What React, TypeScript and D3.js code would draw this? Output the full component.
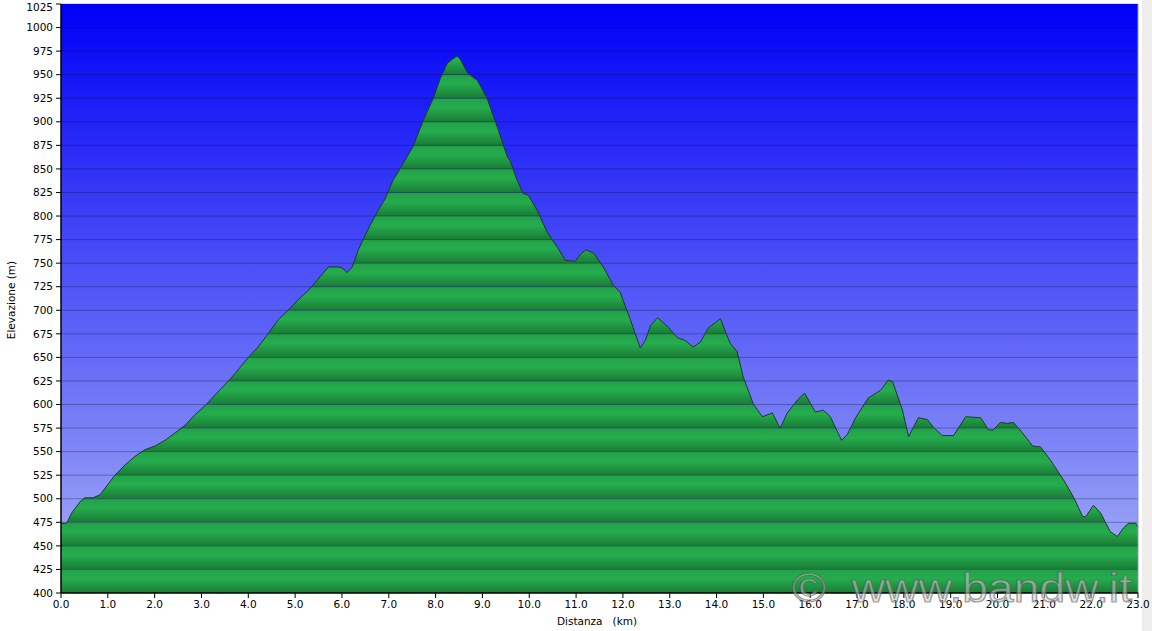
import * as d3 from "d3";

// distance along the track (km) and elevation (m)
const distanceKm = [
  0.0, 0.12, 0.23, 0.41, 0.51, 0.68, 0.83, 1.0, 1.15, 1.37, 1.58, 1.79, 2.01, 2.22, 2.44, 2.65, 2.86,
  3.08, 3.29, 3.5, 3.72, 4.0, 4.21, 4.42, 4.64, 4.85, 5.06, 5.28, 5.49, 5.71, 5.92, 6.0, 6.11, 6.22,
  6.35, 6.45, 6.6, 6.77, 6.92, 7.09, 7.31, 7.52, 7.74, 7.95, 8.1, 8.25, 8.35, 8.46, 8.53, 8.68, 8.78,
  8.89, 9.1, 9.32, 9.53, 9.59, 9.74, 9.87, 9.98, 10.17, 10.38, 10.6, 10.77, 10.98, 11.09, 11.2, 11.37,
  11.58, 11.79, 11.94, 12.16, 12.37, 12.48, 12.59, 12.74, 12.97, 13.16, 13.33, 13.5, 13.65, 13.82,
  14.08, 14.29, 14.44, 14.57, 14.79, 14.98, 15.19, 15.36, 15.51, 15.73, 15.88, 16.11, 16.28, 16.43,
  16.67, 16.79, 16.97, 17.24, 17.5, 17.67, 17.76, 17.97, 18.1, 18.31, 18.5, 18.63, 18.82, 19.06,
  19.32, 19.64, 19.81, 19.91, 20.06, 20.21, 20.34, 20.53, 20.75, 20.92, 21.13, 21.41, 21.62, 21.82,
  21.88, 22.05, 22.2, 22.41, 22.56, 22.69, 22.8, 22.95, 23.0,
];
const elevationM = [
  474, 474, 485, 497, 501, 501, 504, 515, 525, 536, 545, 552, 556, 562, 570, 578, 589,
  599, 610, 621, 633, 650, 661, 675, 690, 700, 711, 721, 733, 746, 746, 745, 740, 746,
  764, 775, 790, 806, 818, 838, 856, 874, 902, 925, 946, 962, 966, 970, 966, 952, 948,
  944, 925, 894, 863, 859, 838, 824, 822, 806, 783, 767, 753, 752, 759, 764, 761,
  746, 727, 719, 690, 660, 668, 684, 692, 682, 671, 668, 661, 666, 681,
  691, 665, 656, 629, 600, 587, 591, 575, 591, 605, 612, 592, 594, 587,
  562, 568, 586, 607, 615, 626, 624, 594, 566, 586, 584, 576, 567, 567,
  587, 586, 573, 573, 581, 580, 581, 570, 556, 555, 541, 520, 502, 481,
  481, 493, 485, 465, 460, 469, 474, 474, 470,
];

const yTickValues = d3.range(400, 1026, 25);
const xTickValues = d3.range(0, 24, 1);

const W = 1152;
const H = 631;
const left = 61;
const right = 1138;
const top = 4;
const bottom = 593;
const font = "'DejaVu Sans', Verdana, sans-serif";

export default function App() {
  const x = d3.scaleLinear().domain([0, 23]).range([left, right]);
  const y = d3.scaleLinear().domain([400, 1025]).range([bottom, top]);
  const points = distanceKm.map((d, i) => ({ d, e: elevationM[i] }));

  const area = d3
    .area<{ d: number; e: number }>()
    .x((p) => x(p.d))
    .y0(y(400))
    .y1((p) => y(p.e));
  const line = d3
    .line<{ d: number; e: number }>()
    .x((p) => x(p.d))
    .y((p) => y(p.e));

  const areaPath = area(points) ?? "";

  return (
    <div style={{ position: "absolute", left: 0, top: 0 }}>
      <svg width={W} height={H} style={{ display: "block" }}>
        <defs>
          <linearGradient id="sky" x1="0" y1="0" x2="0" y2="1">
            <stop offset="0%" stopColor="#0000f6" />
            <stop offset="100%" stopColor="#a8b2f6" />
          </linearGradient>
          <linearGradient id="band" x1="0" y1="0" x2="0" y2="1">
            <stop offset="0%" stopColor="#23a04a" />
            <stop offset="40%" stopColor="#25ad4d" />
            <stop offset="100%" stopColor="#1a7b36" />
          </linearGradient>
          <clipPath id="terrain">
            <path d={areaPath} />
          </clipPath>
        </defs>

        <rect x={0} y={0} width={W} height={H} fill="#ffffff" />
        <rect x={1142} y={0} width={W - 1142} height={H} fill="#efedeb" />

        {/* sky */}
        <rect x={left} y={top} width={right - left} height={bottom - top} fill="url(#sky)" />

        {/* green bands clipped to the profile */}
        <g clipPath="url(#terrain)">
          {yTickValues.slice(0, -1).map((t) => (
            <rect
              key={t}
              x={left}
              y={y(t + 25)}
              width={right - left}
              height={y(t) - y(t + 25)}
              fill="url(#band)"
            />
          ))}
        </g>

        {/* grid */}
        {yTickValues.slice(1).map((t) => (
          <line
            key={t}
            x1={left}
            x2={right}
            y1={y(t)}
            y2={y(t)}
            stroke="rgba(0,20,50,0.32)"
            strokeWidth={1}
          />
        ))}

        <path d={line(points) ?? ""} fill="none" stroke="#1c3a2a" strokeWidth={1} />
        <line x1={right} x2={right} y1={top} y2={bottom} stroke="#8f9ab8" strokeWidth={1} />

        {/* axes */}
        <line x1={left} x2={left} y1={top} y2={bottom} stroke="#000" strokeWidth={1.5} />
        <line x1={left} x2={right} y1={bottom} y2={bottom} stroke="#000" strokeWidth={1.5} />

        {yTickValues.map((t) => (
          <g key={t}>
            <line x1={left - 5} x2={left} y1={y(t)} y2={y(t)} stroke="#000" />
            <text
              x={left - 8}
              y={Math.max(y(t), 7)}
              dy="0.35em"
              textAnchor="end"
              fontFamily={font}
              fontSize={10.5}
              fill="#000"
            >
              {t}
            </text>
          </g>
        ))}

        {xTickValues.map((t) => (
          <g key={t}>
            <line x1={x(t)} x2={x(t)} y1={bottom} y2={bottom + 5} stroke="#000" />
            <text
              x={x(t)}
              y={608}
              textAnchor="middle"
              fontFamily={font}
              fontSize={10.5}
              fill="#000"
            >
              {t.toFixed(1)}
            </text>
          </g>
        ))}

        <text
          x={597}
          y={625}
          textAnchor="middle"
          fontFamily={font}
          fontSize={10.5}
          fill="#000"
          style={{ whiteSpace: "pre" }}
        >
          {"Distanza   (km)"}
        </text>
        <text
          transform="translate(15,300) rotate(-90)"
          textAnchor="middle"
          fontFamily={font}
          fontSize={10.5}
          fill="#000"
        >
          Elevazione (m)
        </text>

        {/* watermark */}
        <text
          x={792}
          y={602}
          textLength={340}
          lengthAdjust="spacingAndGlyphs"
          fontFamily="'Liberation Sans', Arial, sans-serif"
          fontSize={41}
          fill="rgba(205,205,205,0.55)"
          stroke="rgba(80,80,80,0.55)"
          strokeWidth={1.2}
          style={{ whiteSpace: "pre" }}
        >
          {"©  www.bandw.it"}
        </text>
      </svg>
    </div>
  );
}
